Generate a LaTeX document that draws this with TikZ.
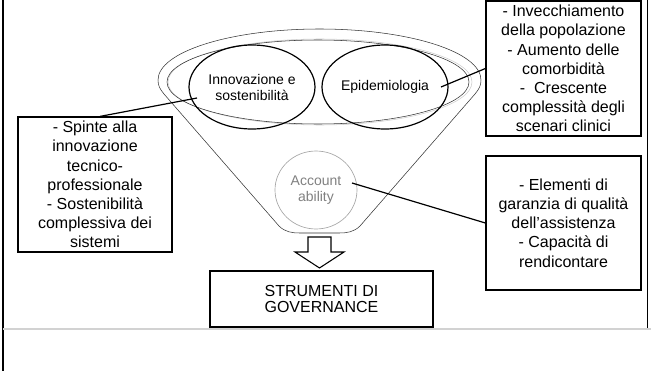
\documentclass[tikz,border=0pt]{standalone}
\usepackage{fontspec}
\setmainfont{Liberation Sans}
\usetikzlibrary{shapes.geometric}

\begin{document}
\begin{tikzpicture}[x=0.75pt, y=-0.75pt,
    textbox/.style={draw, line width=0.9pt, align=center, inner sep=0pt, font=\fontsize{12}{14.4}\selectfont},
    bubble/.style={draw, ellipse, line width=0.9pt, inner sep=0pt, align=center, font=\fontsize{10.5}{12}\selectfont},
    link/.style={line width=0.9pt},
    rim/.style={draw=black!80, line width=0.4pt}]
    \useasboundingbox (0,0) rectangle (651,371);

    % Page frame
    \draw[line width=1.5pt] (3,0) -- (3,371);
    \draw[line width=1.2pt] (647.5,0) -- (647.5,329);
    \draw[gray!35, line width=0.8pt] (3,329) -- (651,329);

    % Funnel
    \draw[rim] (158,80) arc[start angle=180, end angle=360, x radius=161.5, y radius=51]
        .. controls (481,86) and (479,89) .. (475,94) -- (360,226)
        .. controls (354,232) and (347,233) .. (339,233) -- (300,233)
        .. controls (292,233) and (285,232) .. (279,226) -- (164,94)
        .. controls (160,89) and (158,86) .. (158,80);
    \draw[gray!40] (320,82) ellipse[x radius=152, y radius=43];
    \draw[rim] (318,82) ellipse[x radius=151, y radius=42];

    % Bubbles inside the funnel
    \node[bubble, minimum width=94.5pt, minimum height=63pt] (innov) at (252,87) {Innovazione e\\sostenibilità};
    \node[bubble, minimum width=94.5pt, minimum height=63pt] (epid) at (385,87) {Epidemiologia};
    \node[bubble, draw=gray!70, text=gray, line width=0.5pt, minimum width=61.5pt, minimum height=58.5pt] (account) at (316,190) {Account\\ability};

    % Text boxes
    \node[textbox, minimum width=115.5pt, minimum height=101.25pt] (spinte) at (95,184.5)
        {- Spinte alla\\innovazione\\tecnico-\\professionale\\- Sostenibilità\\complessiva dei\\sistemi};
    \node[textbox, minimum width=116.25pt, minimum height=101.25pt] (invecchia) at (563.5,68.5)
        {- Invecchiamento\\della popolazione\\- Aumento delle\\comorbidità\\- \ Crescente\\complessità degli\\scenari clinici};
    \node[textbox, minimum width=116.25pt, minimum height=100.5pt] (elementi) at (563.5,223)
        {- Elementi di\\garanzia di qualità\\dell’assistenza\\- Capacità di\\rendicontare};
    \node[textbox, font=\fontsize{12}{12.5}\selectfont, minimum width=167.25pt, minimum height=42pt] (strumenti) at (321.5,299)
        {STRUMENTI DI\\GOVERNANCE};

    % Connectors
    \coordinate (innpt) at (197,98);
    \coordinate (epipt) at (441,87);
    \coordinate (accpt) at (352,183);
    \draw[link] ([xshift=3.75pt]spinte.north) -- (innpt);
    \draw[link] (invecchia.west) -- (epipt);
    \draw[link] (elementi.west) -- (accpt);

    % Block arrow down to the box
    \draw[line width=0.8pt, fill=white] (308,237) -- (308,252) -- (295,252) -- (319.5,268)
        -- (344,252) -- (331,252) -- (331,237) -- cycle;
\end{tikzpicture}
\end{document}
